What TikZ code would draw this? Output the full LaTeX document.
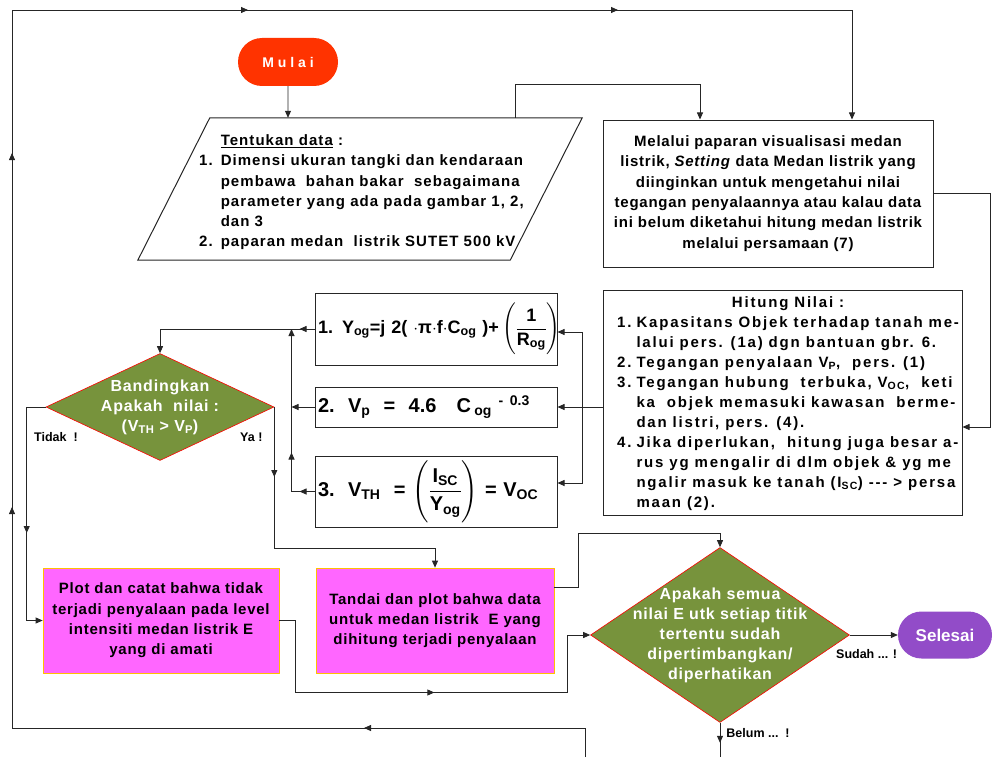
\documentclass[tikz,border=0pt]{standalone}
\usepackage{fontspec}
\usepackage{amsmath}
\setmainfont{Liberation Sans}
\newfontfamily\lebar[LetterSpace=5]{Liberation Sans}
\newfontfamily\lebardata[LetterSpace=7]{Liberation Sans}
\newfontfamily\lebarhitung[LetterSpace=12]{Liberation Sans}
\usetikzlibrary{shapes.geometric,shapes.misc,arrows.meta,decorations.markings,calc}

\definecolor{mulaimerah}{RGB}{255,51,0}
\definecolor{selesaiungu}{RGB}{146,76,200}
\definecolor{hijauzaitun}{RGB}{119,147,60}
\definecolor{plotpink}{RGB}{255,102,255}
\definecolor{tepioranye}{RGB}{255,192,0}

\newcommand{\teks}{\lebar\fontsize{15}{20.3}\selectfont\bfseries}
\newcommand{\teksdata}{\lebardata\fontsize{15}{20.3}\selectfont\bfseries}
\newcommand{\tekshitung}{\lebarhitung\fontsize{15}{20}\selectfont\bfseries}
\newcommand{\teksbesar}{\lebar\fontsize{16}{20}\selectfont\bfseries}
\newcommand{\rumus}{\fontsize{19}{22}\selectfont\bfseries}
\newcommand{\kecil}{\fontsize{12.5}{15}\selectfont\bfseries}

\tikzset{
  garis/.style={draw=black!85, line width=0.8pt},
  panah/.style={garis, -{Triangle[length=7pt,width=6pt]}},
  tanda/.style={postaction={decorate,decoration={markings,mark=at position #1 with {\arrow{Triangle[length=7pt,width=6pt]}}}}},
  kotak/.style={draw=black!85, line width=1pt, inner sep=0pt, align=center, font=\teks},
  kotakrumus/.style={draw=black!85, line width=1pt, inner xsep=3pt, inner ysep=0pt, text width=236pt, align=left, font=\rumus},
  pinkbox/.style={kotak, fill=plotpink, draw=tepioranye, line width=0.7pt},
  cabang/.style={diamond, fill=hijauzaitun, draw=red, line width=0.6pt, inner sep=0pt},
  terminal/.style={rounded rectangle, inner sep=0pt, text=white},
  ket/.style={font=\kecil, inner sep=0pt}
}

\begin{document}
\begin{tikzpicture}[x=1pt, y=-1pt]
\useasboundingbox (0,0) rectangle (992,757);

\node[terminal, fill=mulaimerah, minimum width=100pt, minimum height=48pt, font=\fontsize{14}{16}\selectfont\bfseries] (mulai) at (288,62) {M u l a i};

\node[minimum width=444pt, minimum height=142pt, inner sep=0pt] (datain) at (360,189) {};
\draw[draw=black!85, line width=1pt] (datain.south west) -- ([xshift=72pt]datain.north west) -- (datain.north east) -- ([xshift=-72pt]datain.south east) -- cycle;
\node[anchor=north west, inner sep=0pt, font=\teksdata] (datatxt) at (199,131) {%
\begin{tabular}{@{}r@{\hspace{8pt}}l@{}}
 & \underline{Tentukan data} :\\
1. & Dimensi ukuran tangki dan kendaraan\\
 & pembawa\ \ bahan bakar\ \ sebagaimana\\
 & parameter yang ada pada gambar 1, 2,\\
 & dan 3\\
2. & paparan medan\ \ listrik SUTET 500 kV
\end{tabular}};

\node[kotak, minimum width=330pt, minimum height=147pt] (melalui) at (768,193.5) {Melalui paparan visualisasi medan\\ listrik, \textit{Setting} data Medan listrik yang\\ diinginkan untuk mengetahui nilai\\ tegangan penyalaannya atau kalau data\\ ini belum diketahui hitung medan listrik\\ melalui persamaan (7)};

\node[kotak, minimum width=359pt, minimum height=225pt] (hitung) at (782.5,402.5) {};
\node[anchor=west, inner sep=0pt, font=\tekshitung] (hitungtxt) at (617,403) {%
\begin{tabular}{@{}r@{\hspace{5pt}}l@{}}
\multicolumn{2}{c}{Hitung Nilai :}\\
1. & Kapasitans Objek terhadap tanah me-\\
 & lalui pers. (1a) dgn bantuan gbr. 6.\\
2. & Tegangan penyalaan V\textsubscript{P},\ \ pers. (1)\\
3. & Tegangan hubung\ \ terbuka, V\textsubscript{OC},\ \ keti\\
 & ka\ \ objek memasuki kawasan\ \ berme-\\
 & dan listri, pers. (4).\\
4. & Jika diperlukan,\ \ hitung juga besar a-\\
 & rus yg mengalir di dlm objek \& yg me\\
 & ngalir masuk ke tanah (I\textsubscript{SC}) -{}-{}- > persa\\
 & maan (2).
\end{tabular}};

\node[kotakrumus, minimum height=72pt, font=\fontsize{18}{22}\selectfont\bfseries] (box1) at (436,329) {\mbox{1. Y\textsubscript{og}=j 2( $\cdot$π$\cdot$f$\cdot$C\textsubscript{og} )+\,$\Bigg(\dfrac{\text{1}}{\text{R\textsubscript{og}}}\Bigg)$}};
\node[kotakrumus, minimum height=40pt, font=\fontsize{20}{22}\selectfont\bfseries] (box2) at (436,407) {\mbox{2.\ \ V\textsubscript{p}\ \ =\ \ 4.6\quad C\,\textsubscript{og}\ \textsuperscript{-\ 0.3}}};
\node[kotakrumus, minimum height=71pt, font=\fontsize{20}{22}\selectfont\bfseries] (box3) at (436,491.5) {\mbox{3.\ \ V\textsubscript{TH}\ \ =\ $\Bigg(\dfrac{\text{I\textsubscript{SC}}}{\text{Y\textsubscript{og}}}\Bigg)$\ =\ V\textsubscript{OC}}};

\node[cabang, minimum width=228pt, minimum height=107pt] (cmp) at (160,407) {};
\node[font=\teksbesar, text=white, align=center, inner sep=0pt] (cmptxt) at (cmp) {Bandingkan\\ Apakah\ \ nilai :\\ (V\textsubscript{TH} > V\textsubscript{P})};
\node[ket, anchor=west] (tidak) at (34,437) {Tidak\ \ !};
\node[ket, anchor=west] (ya) at (240,437) {Ya !};

\node[pinkbox, minimum width=236pt, minimum height=105pt] (plotno) at (161,620.5) {Plot dan catat bahwa tidak\\ terjadi penyalaan pada level\\ intensiti medan listrik E\\ yang di amati};
\node[pinkbox, minimum width=238pt, minimum height=105pt] (plotyes) at (435,620.5) {Tandai dan plot bahwa data\\ untuk medan listrik\ \ E yang\\ dihitung terjadi penyalaan};

\node[cabang, minimum width=259pt, minimum height=175pt] (cek) at (720,635) {};
\node[font=\teksbesar, text=white, align=center, inner sep=0pt] (cektxt) at (cek) {Apakah semua\\ nilai E utk setiap titik\\ tertentu sudah\\ dipertimbangkan/\\ diperhatikan};

\node[terminal, fill=selesaiungu, minimum width=94pt, minimum height=47pt, font=\fontsize{17}{20}\selectfont\bfseries] (selesai) at (945,635) {Selesai};

\coordinate (cutA) at (720,757);
\coordinate (cutB) at (585,757);

\draw[panah] (mulai) -- (mulai |- datain.north);
\draw[panah] ([xshift=155pt]datain.north) -- ++(0,-33) -| ([xshift=-68pt]melalui.north);
\draw[panah, tanda=250pt, tanda=823pt, tanda=1177pt, tanda=1556pt, tanda=1926pt] (cutB) -- ++(0,-29) -- ++(-573,0) -- ++(0,-718) -| ([xshift=84pt]melalui.north);
\draw[panah] (melalui.east) -- ++(57,0) |- ([yshift=-24.5pt]hitung.east);
\draw[panah] (hitung.west |- box2) -- (box2.east);
\coordinate (bus) at ($(box2.east)+(25,0)$);
\draw[panah] (bus) |- ([yshift=-3pt]box1.east);
\draw[panah] (bus) |- ([yshift=8.5pt]box3.east);

\coordinate (gabung) at ($(box1.west)+(-23,0)$);
\draw[panah, tanda=15pt] (box1.west) -| (cmp.north);
\draw[panah, tanda=15pt, tanda=62pt] (box3.west) -| (gabung);
\draw[panah] (box2.west) -- (gabung |- box2.west);

\draw[panah, tanda=145pt] (cmp.west) -- ++(-19,0) |- (plotno.west);
\draw[panah, tanda=70pt] (cmp.east) |- ([yshift=19pt]plotyes.north) -- (plotyes.north);
\draw[panah] ([yshift=33.5pt]plotyes.east) -- ++(24,0) |- ([yshift=14pt]cek.north) -- (cek.north);
\draw[panah, tanda=227pt] (plotno.east) -- ++(16,0) -- ++(0,72) -| ([xshift=-23pt]cek.west) -- (cek.west);
\draw[panah] (cek.east) -- node[ket, pos=0.35, below=14pt] (sudah) {Sudah ... !} (selesai.west);
\draw[garis, tanda=20pt] (cek.south) -- node[ket, pos=0.3, right=6pt] (belum) {Belum ...\ \ !} (cutA);
\end{tikzpicture}
\end{document}
